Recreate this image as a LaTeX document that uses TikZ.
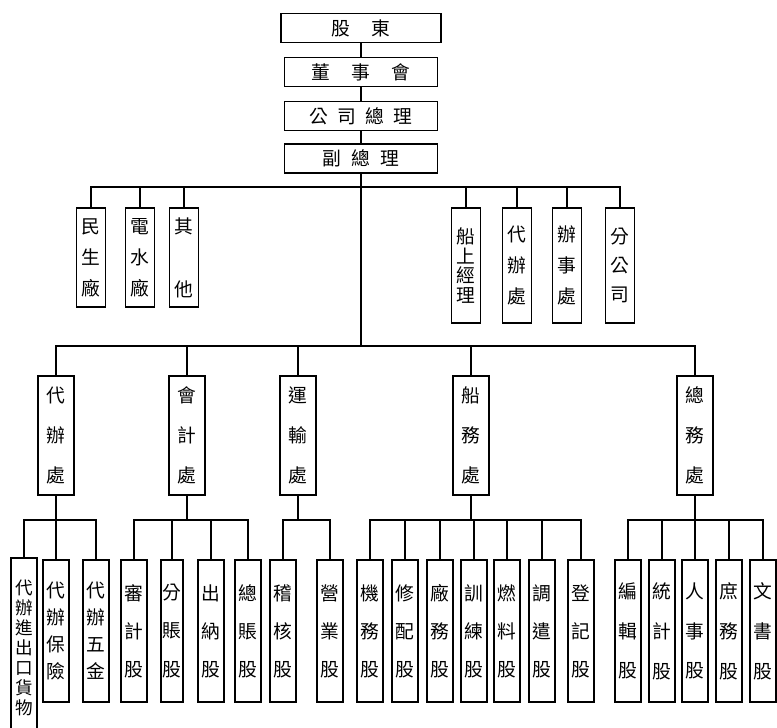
\documentclass[tikz,border=0pt]{standalone}
\usepackage{fontspec}
\newfontfamily\cjk{Noto Sans CJK TC}

\begin{document}
\begin{tikzpicture}[x=0.03cm, y=-0.03cm,
    box/.style={draw, line width=1.2pt, inner sep=0pt, align=center},
    topbox/.style={box, minimum width=4.6cm, minimum height=0.87cm, font=\cjk\fontsize{16}{18}\selectfont},
    vbox/.style={box, font=\cjk\fontsize{16}{#1}\selectfont},
    sidebox/.style={vbox=#1, minimum width=0.87cm},
    deptbox/.style={vbox=34pt, minimum width=1.08cm, minimum height=3.57cm},
    secbox/.style={vbox=#1, minimum width=0.78cm, minimum height=4.26cm},
    secbox/.default=32.5pt,
    link/.style={line width=1.2pt}]
    \useasboundingbox (0,0) rectangle (777,728);

    % Top chain
    \node[topbox, minimum width=4.8cm] (gudong) at (361,28) {股\hspace{18pt}東};
    \node[topbox] (dongshi) at (361,72) {董\hspace{18pt}事\hspace{18pt}會};
    \node[topbox] (zongli) at (361,116) {公\hspace{8pt}司\hspace{8pt}總\hspace{8pt}理};
    \node[topbox] (fuzongli) at (361,158.5) {副\hspace{9pt}總\hspace{9pt}理};
    \draw[link] (gudong) -- (dongshi);
    \draw[link] (dongshi) -- (zongli);
    \draw[link] (zongli) -- (fuzongli);

    % Side units under the deputy
    \node[sidebox=26.5pt, minimum height=2.97cm] (minsheng) at (91,257.5) {民\\生\\廠};
    \node[sidebox=26.5pt, minimum height=2.97cm] (dianshui) at (140,257.5) {電\\水\\廠};
    \node[sidebox=54pt, minimum height=2.97cm] (qita) at (184,257.5) {其\\他};
    \node[sidebox=17pt, minimum height=3.45cm] (chuanshang) at (466,265.5) {船\\上\\經\\理};
    \node[sidebox=26.5pt, minimum height=3.45cm] (daiban) at (517,265.5) {代\\辦\\處};
    \node[sidebox=26.5pt, minimum height=3.45cm] (banshi) at (567,265.5) {辦\\事\\處};
    \node[sidebox=25pt, minimum height=3.45cm] (fengongsi) at (620,265.5) {分\\公\\司};

    \coordinate (bus2) at (361,187);
    \coordinate (bus3) at (361,346);
    \draw[link] (fuzongli) -- (bus3);
    \foreach \n in {minsheng,dianshui,qita,chuanshang,daiban,banshi,fengongsi}
        \draw[link] (\n.north) |- (bus2);

    % Departments
    \node[deptbox] (daibanchu) at (56,435.5) {代\\辦\\處};
    \node[deptbox] (kuaiji) at (187,435.5) {會\\計\\處};
    \node[deptbox] (yunshu) at (298,435.5) {運\\輸\\處};
    \node[deptbox] (chuanwu) at (471,435.5) {船\\務\\處};
    \node[deptbox] (zongwu) at (695,435.5) {總\\務\\處};
    \foreach \n in {daibanchu,kuaiji,yunshu,chuanwu,zongwu}
        \draw[link] (\n.north) |- (bus3);

    % Sections
    \node[secbox=17pt, minimum height=5.4cm, font=\cjk\fontsize{15}{17pt}\selectfont] (jinchukou) at (24,648) {代\\辦\\進\\出\\口\\貨\\物};
    \node[secbox=23pt] (baoxian) at (56,631) {代\\辦\\保\\險};
    \node[secbox=23pt] (wujin) at (96,631) {代\\辦\\五\\金};

    \node[secbox] (shenji) at (134,631) {審\\計\\股};
    \node[secbox, minimum width=0.66cm] (fenzhang) at (172,631) {分\\賬\\股};
    \node[secbox] (chuna) at (211,631) {出\\納\\股};
    \node[secbox] (zongzhang) at (248,631) {總\\賬\\股};

    \node[secbox] (jihe) at (283,631) {稽\\核\\股};
    \node[secbox] (yingye) at (330,631) {營\\業\\股};

    \node[secbox] (jiwu) at (370,631) {機\\務\\股};
    \node[secbox] (xiupei) at (405,631) {修\\配\\股};
    \node[secbox] (changwu) at (440,631) {廠\\務\\股};
    \node[secbox] (xunlian) at (474,631) {訓\\練\\股};
    \node[secbox] (ranliao) at (507,631) {燃\\料\\股};
    \node[secbox] (diaoqian) at (542,631) {調\\遣\\股};
    \node[secbox] (dengji) at (581,631) {登\\記\\股};

    \node[secbox=34pt] (bianji) at (628,631) {編\\輯\\股};
    \node[secbox=34pt] (tongji) at (662,631) {統\\計\\股};
    \node[secbox=34pt] (renshi) at (695,631) {人\\事\\股};
    \node[secbox=34pt] (shuwu) at (729,631) {庶\\務\\股};
    \node[secbox=34pt] (wenshu) at (763,631) {文\\書\\股};

    \foreach \p/\kids in {daibanchu/{jinchukou,baoxian,wujin},
                          kuaiji/{shenji,fenzhang,chuna,zongzhang},
                          yunshu/{jihe,yingye},
                          chuanwu/{jiwu,xiupei,changwu,xunlian,ranliao,diaoqian,dengji},
                          zongwu/{bianji,tongji,renshi,shuwu,wenshu}} {
        \path (\p.south |- 0,520) coordinate (pbus);
        \draw[link] (\p.south) -- (pbus);
        \foreach \k in \kids
            \draw[link] (\k.north) |- (pbus);
    }
\end{tikzpicture}
\end{document}
